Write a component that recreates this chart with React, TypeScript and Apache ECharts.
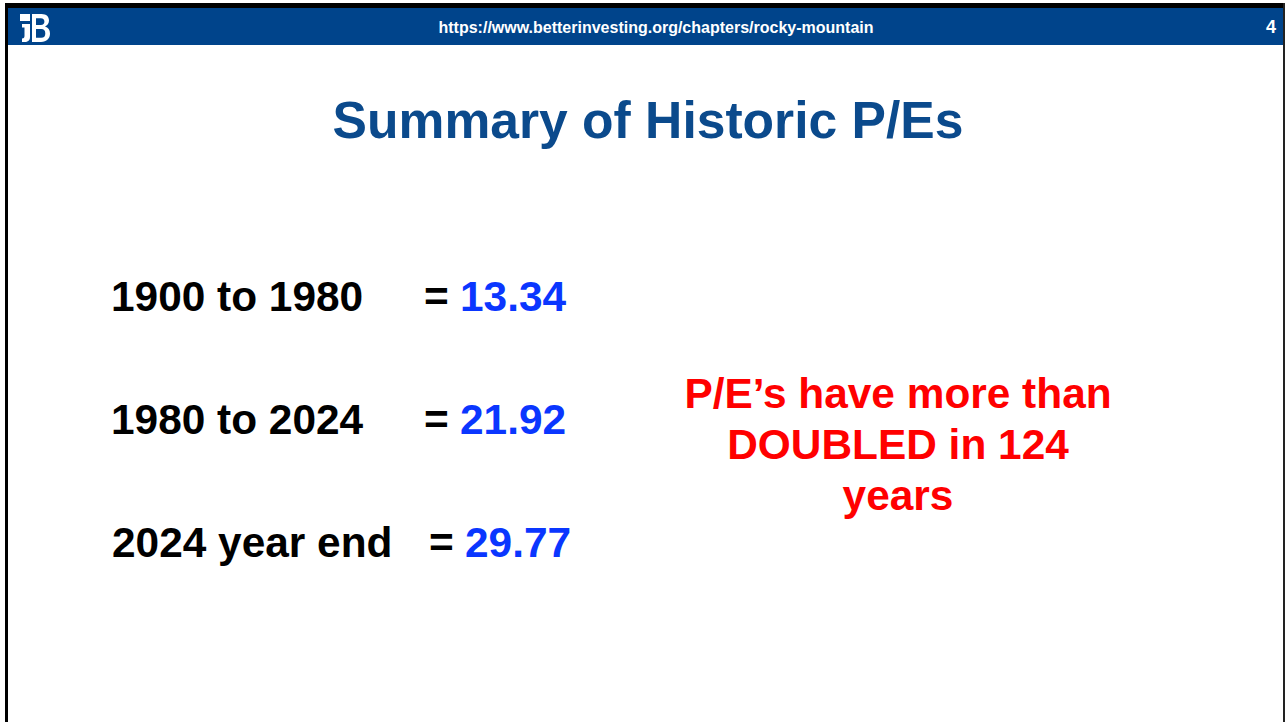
import React, { useEffect, useRef } from "react";
import * as echarts from "echarts";

// ---- content (data) ----
const headerUrl = "https://www.betterinvesting.org/chapters/rocky-mountain";
const slideNumber = "4";
const titleText = "Summary of Historic P/Es";
const periodLabels = ["1900 to 1980", "1980 to 2024", "2024 year end"];
const periodValues = [13.34, 21.92, 29.77];
const noteLines = ["P/E\u2019s have more than", "DOUBLED in 124", "years"];

// ---- layout (positions kept separate from data) ----
const rowY = [296, 419, 542];
const labelX = [111, 111, 112];
const eqX = [424, 424, 429];
const valX = [460, 460, 465];
const noteY = [393, 444, 495];

const FONT = '"Liberation Sans", Arial, Helvetica, sans-serif';
const BODY_SIZE = 42.4;

const logoPath =
  "M0 0 H10 V7 H0 Z " +
  "M2 10 H10 V23 C10 26.5 8 28 4.5 28 H2 V24.5 C4 24.5 4.5 23.5 4.5 21.5 V13.5 H2 Z " +
  "M12 0 H21.5 C26.5 0 29 2.8 29 6.5 C29 9.5 27.3 11.5 25 12.6 C28.2 13.6 30 16.2 30 19.6 C30 24.6 26.8 28 21 28 H12 Z " +
  "M16 4.2 V11 H20.8 C23.3 11 24.4 9.6 24.4 7.6 C24.4 5.6 23.3 4.2 20.8 4.2 Z " +
  "M16 15 V23.8 H21.2 C24.1 23.8 25.3 22 25.3 19.4 C25.3 16.8 24.1 15 21.2 15 Z";

let registered = false;

export default function App() {
  const ref = useRef<HTMLDivElement>(null);

  useEffect(() => {
    document.body.style.margin = "0";
    if (!registered) {
      echarts.graphic.registerShape("logo", echarts.graphic.extendPath(logoPath, {}));
      registered = true;
    }
    const chart = echarts.init(ref.current!, null, { renderer: "svg" });

    const bodyText = (text: string, x: number, y: number, fill: string, align: string) => ({
      type: "text",
      x,
      y,
      style: {
        text,
        fill,
        fontSize: BODY_SIZE,
        fontWeight: "bold",
        fontFamily: FONT,
        textAlign: align,
        textVerticalAlign: "middle",
      },
    });

    const elements: any[] = [
      // frame & header
      { type: "rect", shape: { x: 8, y: 8, width: 1275, height: 37 }, style: { fill: "#00448b" }, silent: true },
      { type: "rect", shape: { x: 5, y: 3, width: 1280, height: 5 }, style: { fill: "#000000" }, silent: true },
      { type: "rect", shape: { x: 5, y: 3, width: 3, height: 719 }, style: { fill: "#000000" }, silent: true },
      { type: "rect", shape: { x: 1283, y: 3, width: 2, height: 719 }, style: { fill: "#222222" }, silent: true },
      { type: "logo", x: 20, y: 14, scaleX: 1, scaleY: 1, style: { fill: "#ffffff" }, silent: true },
      {
        type: "text",
        x: 656,
        y: 27,
        style: {
          text: headerUrl,
          fill: "#ffffff",
          fontSize: 16,
          fontWeight: "bold",
          fontFamily: FONT,
          textAlign: "center",
          textVerticalAlign: "middle",
        },
      },
      {
        type: "text",
        x: 1271,
        y: 27,
        style: {
          text: slideNumber,
          fill: "#ffffff",
          fontSize: 18,
          fontWeight: "bold",
          fontFamily: FONT,
          textAlign: "center",
          textVerticalAlign: "middle",
        },
      },
      {
        type: "text",
        x: 648,
        y: 120,
        style: {
          text: titleText,
          fill: "#0b4a8c",
          fontSize: 51.6,
          fontWeight: "bold",
          fontFamily: FONT,
          textAlign: "center",
          textVerticalAlign: "middle",
        },
      },
    ];

    periodLabels.forEach((lab, i) => {
      elements.push(bodyText(lab, labelX[i], rowY[i], "#000000", "left"));
      elements.push(bodyText("=", eqX[i], rowY[i], "#000000", "left"));
      elements.push(bodyText(periodValues[i].toFixed(2), valX[i], rowY[i], "#0a36ff", "left"));
    });

    noteLines.forEach((line, i) => {
      elements.push(bodyText(line, 898, noteY[i], "#ff0000", "center"));
    });

    chart.setOption({
      animation: false,
      backgroundColor: "#ffffff",
      graphic: { elements },
    });

    return () => chart.dispose();
  }, []);

  return <div ref={ref} style={{ width: 1285, height: 722 }} />;
}
